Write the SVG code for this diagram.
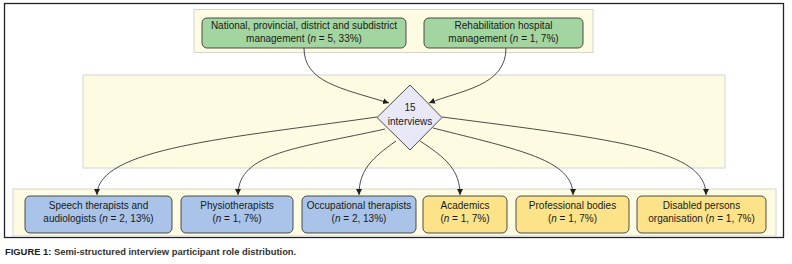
<svg xmlns="http://www.w3.org/2000/svg" width="792" height="264" viewBox="0 0 792 264">
<defs>
<style>
.band{fill:#fdfbe2;stroke:#d4d4d4;stroke-width:1}
.box{stroke:#3a3a3a;stroke-width:0.9}
.g{fill:#a3d5a0}.b{fill:#a9c4e8}.y{fill:#fce38a}
.t{font-family:"Liberation Sans",Arial,sans-serif;font-size:10px;fill:#1a1a1a;text-anchor:middle}
.c{fill:none;stroke:#1f1f1f;stroke-width:0.8;marker-end:url(#ah)}
.cap{font-family:"Liberation Sans",Arial,sans-serif;font-size:9.4px;font-weight:bold;fill:#222}
</style>
<marker id="ah" markerWidth="7" markerHeight="7" refX="6" refY="3" orient="auto" markerUnits="userSpaceOnUse">
<path d="M0,0 L6,3 L0,6 Z" fill="#1f1f1f"/>
</marker>
</defs>
<rect x="0" y="0" width="792" height="264" fill="#fff"/>
<rect x="4.5" y="3.5" width="779" height="234" fill="none" stroke="#222" stroke-width="1.3"/>
<rect class="band" x="194" y="9.5" width="399" height="43"/>
<rect class="band" x="83" y="75" width="642" height="93"/>
<rect class="band" x="13" y="189" width="763" height="47"/>
<g id="connectors">
<path class="c" d="M304,48 C304,82 340,88 389,103"/>
<path class="c" d="M506,48 C506,86 462,90 429,103"/>
<path class="c" d="M377,117 C230,138 97,148 97,195"/>
<path class="c" d="M385,129 C300,148 238,152 238,195"/>
<path class="c" d="M396,141 C372,158 359,170 359,195"/>
<path class="c" d="M420,141 C446,158 460,170 460,195"/>
<path class="c" d="M433,128 C520,150 573,160 573,195"/>
<path class="c" d="M442,117 C620,140 706,150 706,195"/>
</g>
<g id="n-national">
<rect class="box g" x="202" y="18" width="204" height="30" rx="5"/>
<text class="t" x="304" y="28.5">National, provincial, district and subdistrict</text>
<text class="t" x="304" y="41.5">management (<tspan font-style="italic">n</tspan> = 5, 33%)</text>
</g>
<g id="n-rehab">
<rect class="box g" x="424" y="18" width="159" height="30" rx="5"/>
<text class="t" x="503.5" y="28.5">Rehabilitation hospital</text>
<text class="t" x="503.5" y="41.5">management (<tspan font-style="italic">n</tspan> = 1, 7%)</text>
</g>
<g id="n-interviews">
<path d="M410,85 L442,117.5 L410,150 L377,117.5 Z" fill="#e8e8f6" stroke="#3a3a3a" stroke-width="0.9"/>
<text class="t" x="410" y="110.5">15</text>
<text class="t" x="410" y="124.5">interviews</text>
</g>
<g id="n-speech">
<rect class="box b" x="25" y="196" width="147" height="37" rx="5"/>
<text class="t" x="98.5" y="208.5">Speech therapists and</text>
<text class="t" x="98.5" y="221.5">audiologists (<tspan font-style="italic">n</tspan> = 2, 13%)</text>
</g>
<g id="n-physio">
<rect class="box b" x="181" y="196" width="112" height="37" rx="5"/>
<text class="t" x="237" y="208.5">Physiotherapists</text>
<text class="t" x="237" y="221.5">(<tspan font-style="italic">n</tspan> = 1, 7%)</text>
</g>
<g id="n-ot">
<rect class="box b" x="302" y="196" width="114" height="37" rx="5"/>
<text class="t" x="359" y="208.5">Occupational therapists</text>
<text class="t" x="359" y="221.5">(<tspan font-style="italic">n</tspan> = 2, 13%)</text>
</g>
<g id="n-academics">
<rect class="box y" x="423" y="196" width="84" height="37" rx="5"/>
<text class="t" x="465" y="208.5">Academics</text>
<text class="t" x="465" y="221.5">(<tspan font-style="italic">n</tspan> = 1, 7%)</text>
</g>
<g id="n-professional">
<rect class="box y" x="516" y="196" width="113" height="37" rx="5"/>
<text class="t" x="572.5" y="208.5">Professional bodies</text>
<text class="t" x="572.5" y="221.5">(<tspan font-style="italic">n</tspan> = 1, 7%)</text>
</g>
<g id="n-disabled">
<rect class="box y" x="637" y="196" width="129" height="37" rx="5"/>
<text class="t" x="701.5" y="208.5">Disabled persons</text>
<text class="t" x="701.5" y="221.5">organisation (<tspan font-style="italic">n</tspan> = 1, 7%)</text>
</g>
<text class="cap" x="5" y="254.5">FIGURE 1: <tspan fill="#333">Semi-structured interview participant role distribution.</tspan></text>
</svg>
